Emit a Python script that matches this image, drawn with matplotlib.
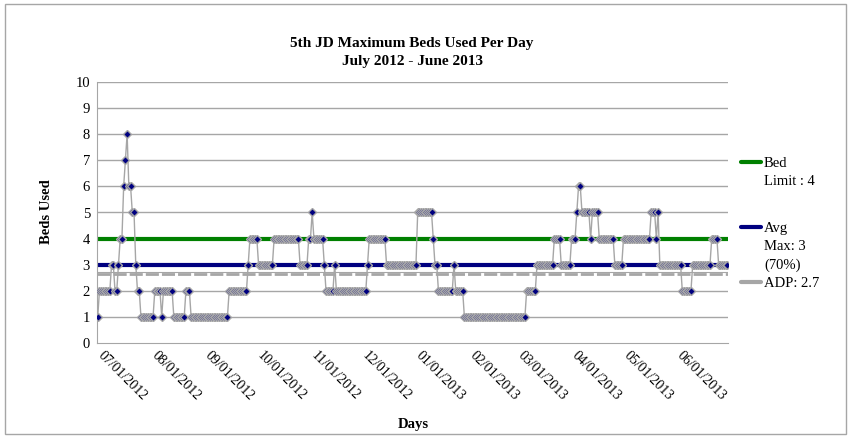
import matplotlib.pyplot as plt
import matplotlib.dates as mdates
import matplotlib.transforms as mtransforms
import numpy as np
import pandas as pd
from matplotlib.lines import Line2D
from matplotlib.patches import Rectangle

plt.rcParams['font.family'] = ['Liberation Serif', 'DejaVu Serif']

# daily max beds (value, number of days)
run_values = [1, 2, 3, 2, 3, 4, 6, 7, 8, 6, 5, 3, 2,
              1, 2, 1, 2, 1, 2, 1, 2, 3, 4, 3, 4, 3, 4, 5, 4, 3, 2, 3, 2,
              3, 4, 3, 5, 4, 3, 2, 3, 2, 1, 2, 3, 4, 3, 4, 5, 6, 5, 4, 5,
              4, 3, 4, 5, 4, 5, 3, 2, 3, 4, 3]
run_lengths = [1, 7, 2, 2, 1, 2, 1, 1, 1, 2, 2, 1, 2,
               8, 4, 1, 6, 7, 3, 22, 11, 1, 5, 9, 15, 5, 2, 1, 6, 1, 5, 1, 18,
               1, 10, 18, 9, 1, 2, 9, 1, 5, 36, 6, 10, 4, 6, 3, 1, 2, 5, 1, 4,
               9, 5, 16, 3, 1, 1, 13, 6, 11, 4, 6]

start_date = '2012-07-01'
bed_limit = 4
avg_max = 3
adp = 2.7

beds = np.repeat(run_values, run_lengths)
days = pd.date_range(start_date, periods=len(beds), freq='D')

W, H = 851, 440
fig = plt.figure(figsize=(W / 100, H / 100), dpi=100)
ax = fig.add_axes([97 / W, (H - 343) / H, (728 - 97) / W, (343 - 82) / H])

grey = '#a6a6a6'

# grid
for y in range(1, 11):
    ax.axhline(y, color=grey, lw=1, zorder=1)

# reference lines
ax.axhline(bed_limit, color='#008000', lw=3, zorder=2)
ax.axhline(avg_max, color='#000080', lw=3, zorder=2)
ax.axhline(adp + 0.02, color=grey, lw=0.8, zorder=2)
ax.axhline(adp - 0.04, color=grey, lw=2, dashes=(4.7, 1.1), zorder=2)

# data
ax.plot(days, beds, color=grey, lw=1, marker='D', ms=3.6,
        mfc='#000080', mec=grey, mew=1, zorder=3)

ax.set_ylim(0, 10)
ax.set_xlim(days[0] - pd.Timedelta(hours=10), days[-1] + pd.Timedelta(hours=10))
ax.set_yticks(range(0, 11))
ax.tick_params(axis='y', length=0, pad=5, labelsize=10.5)

ax.xaxis.set_major_locator(mdates.MonthLocator(bymonthday=1))
ax.xaxis.set_major_formatter(mdates.DateFormatter('%m/%d/%Y'))
ax.tick_params(axis='x', length=0, pad=4.5)
shift = mtransforms.ScaledTranslation(5 / 72, 0, fig.dpi_scale_trans)
for lab in ax.get_xticklabels():
    lab.set_rotation(-45)
    lab.set_ha('left')
    lab.set_va('top')
    lab.set_rotation_mode('anchor')
    lab.set_fontsize(10)
    lab.set_transform(lab.get_transform() + shift)

for s in ['top', 'right']:
    ax.spines[s].set_visible(False)
for s in ['left', 'bottom']:
    ax.spines[s].set_color(grey)

fig.text(412 / W, 1 - 52.5 / H, '5th JD Maximum Beds Used Per Day\nJuly 2012 - June 2013',
         ha='center', va='center', fontsize=11, fontweight='bold', linespacing=1.45)
fig.text(47 / W, 1 - 212 / H, 'Beds Used', rotation=90, ha='center', va='center',
         fontsize=10.5, fontweight='bold')
fig.text(413 / W, 1 - 424 / H, 'Days', ha='center', va='center',
         fontsize=10.5, fontweight='bold')

# legend (outside right)
legend_items = [('#008000', 162, 'Bed\nLimit : 4'),
                ('#000080', 227, 'Avg\nMax: 3\n(70%)'),
                (grey, 282, 'ADP: 2.7')]
for color, ypx, label in legend_items:
    fig.add_artist(Line2D([741 / W, 761 / W], [1 - ypx / H, 1 - ypx / H],
                          color=color, lw=3, solid_capstyle='round'))
    fig.text(764 / W, 1 - (ypx - 5) / H, label, ha='left', va='top',
             fontsize=10.5, linespacing=1.5)

fig.add_artist(Rectangle((5 / W, 6 / H), 841 / W, 430 / H, transform=fig.transFigure,
                         fill=False, ec=grey, lw=1))

fig.savefig('out.png', dpi=100)
